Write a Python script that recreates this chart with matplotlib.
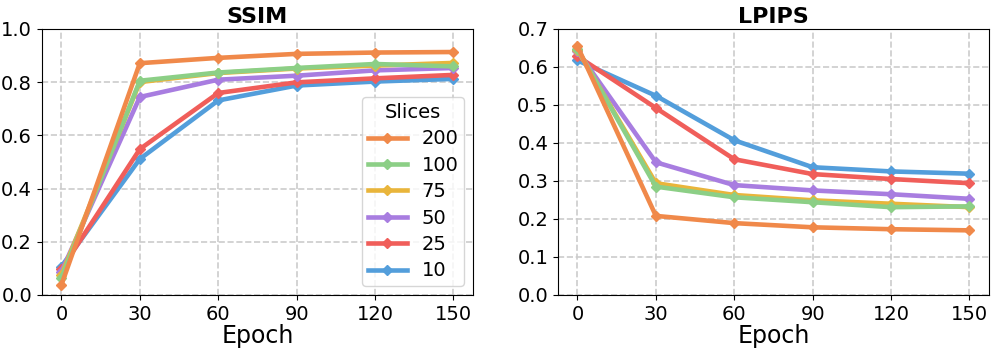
import matplotlib
matplotlib.use("Agg")
import matplotlib.pyplot as plt

epochs = [0, 30, 60, 90, 120, 150]
slices = ["200", "100", "75", "50", "25", "10"]
colors = ["#F0894A", "#8CCF86", "#E9B53B", "#A87DE0", "#F05E5A", "#539EDB"]

ssim_200 = [0.038, 0.871, 0.891, 0.906, 0.911, 0.913]
ssim_100 = [0.065, 0.805, 0.836, 0.853, 0.868, 0.859]
ssim_75 = [0.075, 0.800, 0.834, 0.851, 0.862, 0.872]
ssim_50 = [0.088, 0.744, 0.809, 0.824, 0.844, 0.853]
ssim_25 = [0.097, 0.548, 0.759, 0.799, 0.814, 0.827]
ssim_10 = [0.107, 0.511, 0.731, 0.787, 0.802, 0.812]

lpips_200 = [0.654, 0.208, 0.189, 0.178, 0.173, 0.170]
lpips_100 = [0.647, 0.285, 0.257, 0.244, 0.231, 0.233]
lpips_75 = [0.645, 0.294, 0.263, 0.249, 0.240, 0.231]
lpips_50 = [0.641, 0.349, 0.289, 0.275, 0.265, 0.253]
lpips_25 = [0.628, 0.492, 0.357, 0.318, 0.305, 0.294]
lpips_10 = [0.617, 0.524, 0.407, 0.336, 0.325, 0.319]

ssim = [ssim_200, ssim_100, ssim_75, ssim_50, ssim_25, ssim_10]
lpips = [lpips_200, lpips_100, lpips_75, lpips_50, lpips_25, lpips_10]

fig, axes = plt.subplots(1, 2, figsize=(9.96, 3.52), dpi=100)
fig.subplots_adjust(left=0.042, right=0.993, top=0.918, bottom=0.162, wspace=0.197)

for ax, data, title, ylim, yticks in [
    (axes[0], ssim, "SSIM", (0, 1.0), [0, 0.2, 0.4, 0.6, 0.8, 1.0]),
    (axes[1], lpips, "LPIPS", (0, 0.7), [0, 0.1, 0.2, 0.3, 0.4, 0.5, 0.6, 0.7]),
]:
    handles = []
    for i in range(len(slices) - 1, -1, -1):
        h, = ax.plot(epochs, data[i], color=colors[i], lw=3.3, marker="D", ms=5.5,
                     label=slices[i], zorder=3 + (len(slices) - i))
        handles.append(h)
    ax.set_title(title, fontsize=16, fontweight="bold", pad=4)
    ax.set_xlabel("Epoch", fontsize=17, labelpad=0)
    ax.set_ylim(*ylim)
    ax.set_yticks(yticks)
    ax.set_yticklabels([f"{t:.1f}" for t in yticks])
    ax.set_xticks(epochs)
    ax.tick_params(labelsize=14)
    ax.grid(True, ls="--", color="#cccccc", lw=1.2)
    ax.set_axisbelow(True)
    if title == "SSIM":
        ax.legend(handles[::-1], slices, title="Slices", fontsize=14, title_fontsize=14,
                  loc="lower right", handlelength=2.0, borderpad=0.3, labelspacing=0.38,
                  handletextpad=0.75, borderaxespad=0.45)

fig.savefig("out.png", dpi=100)
